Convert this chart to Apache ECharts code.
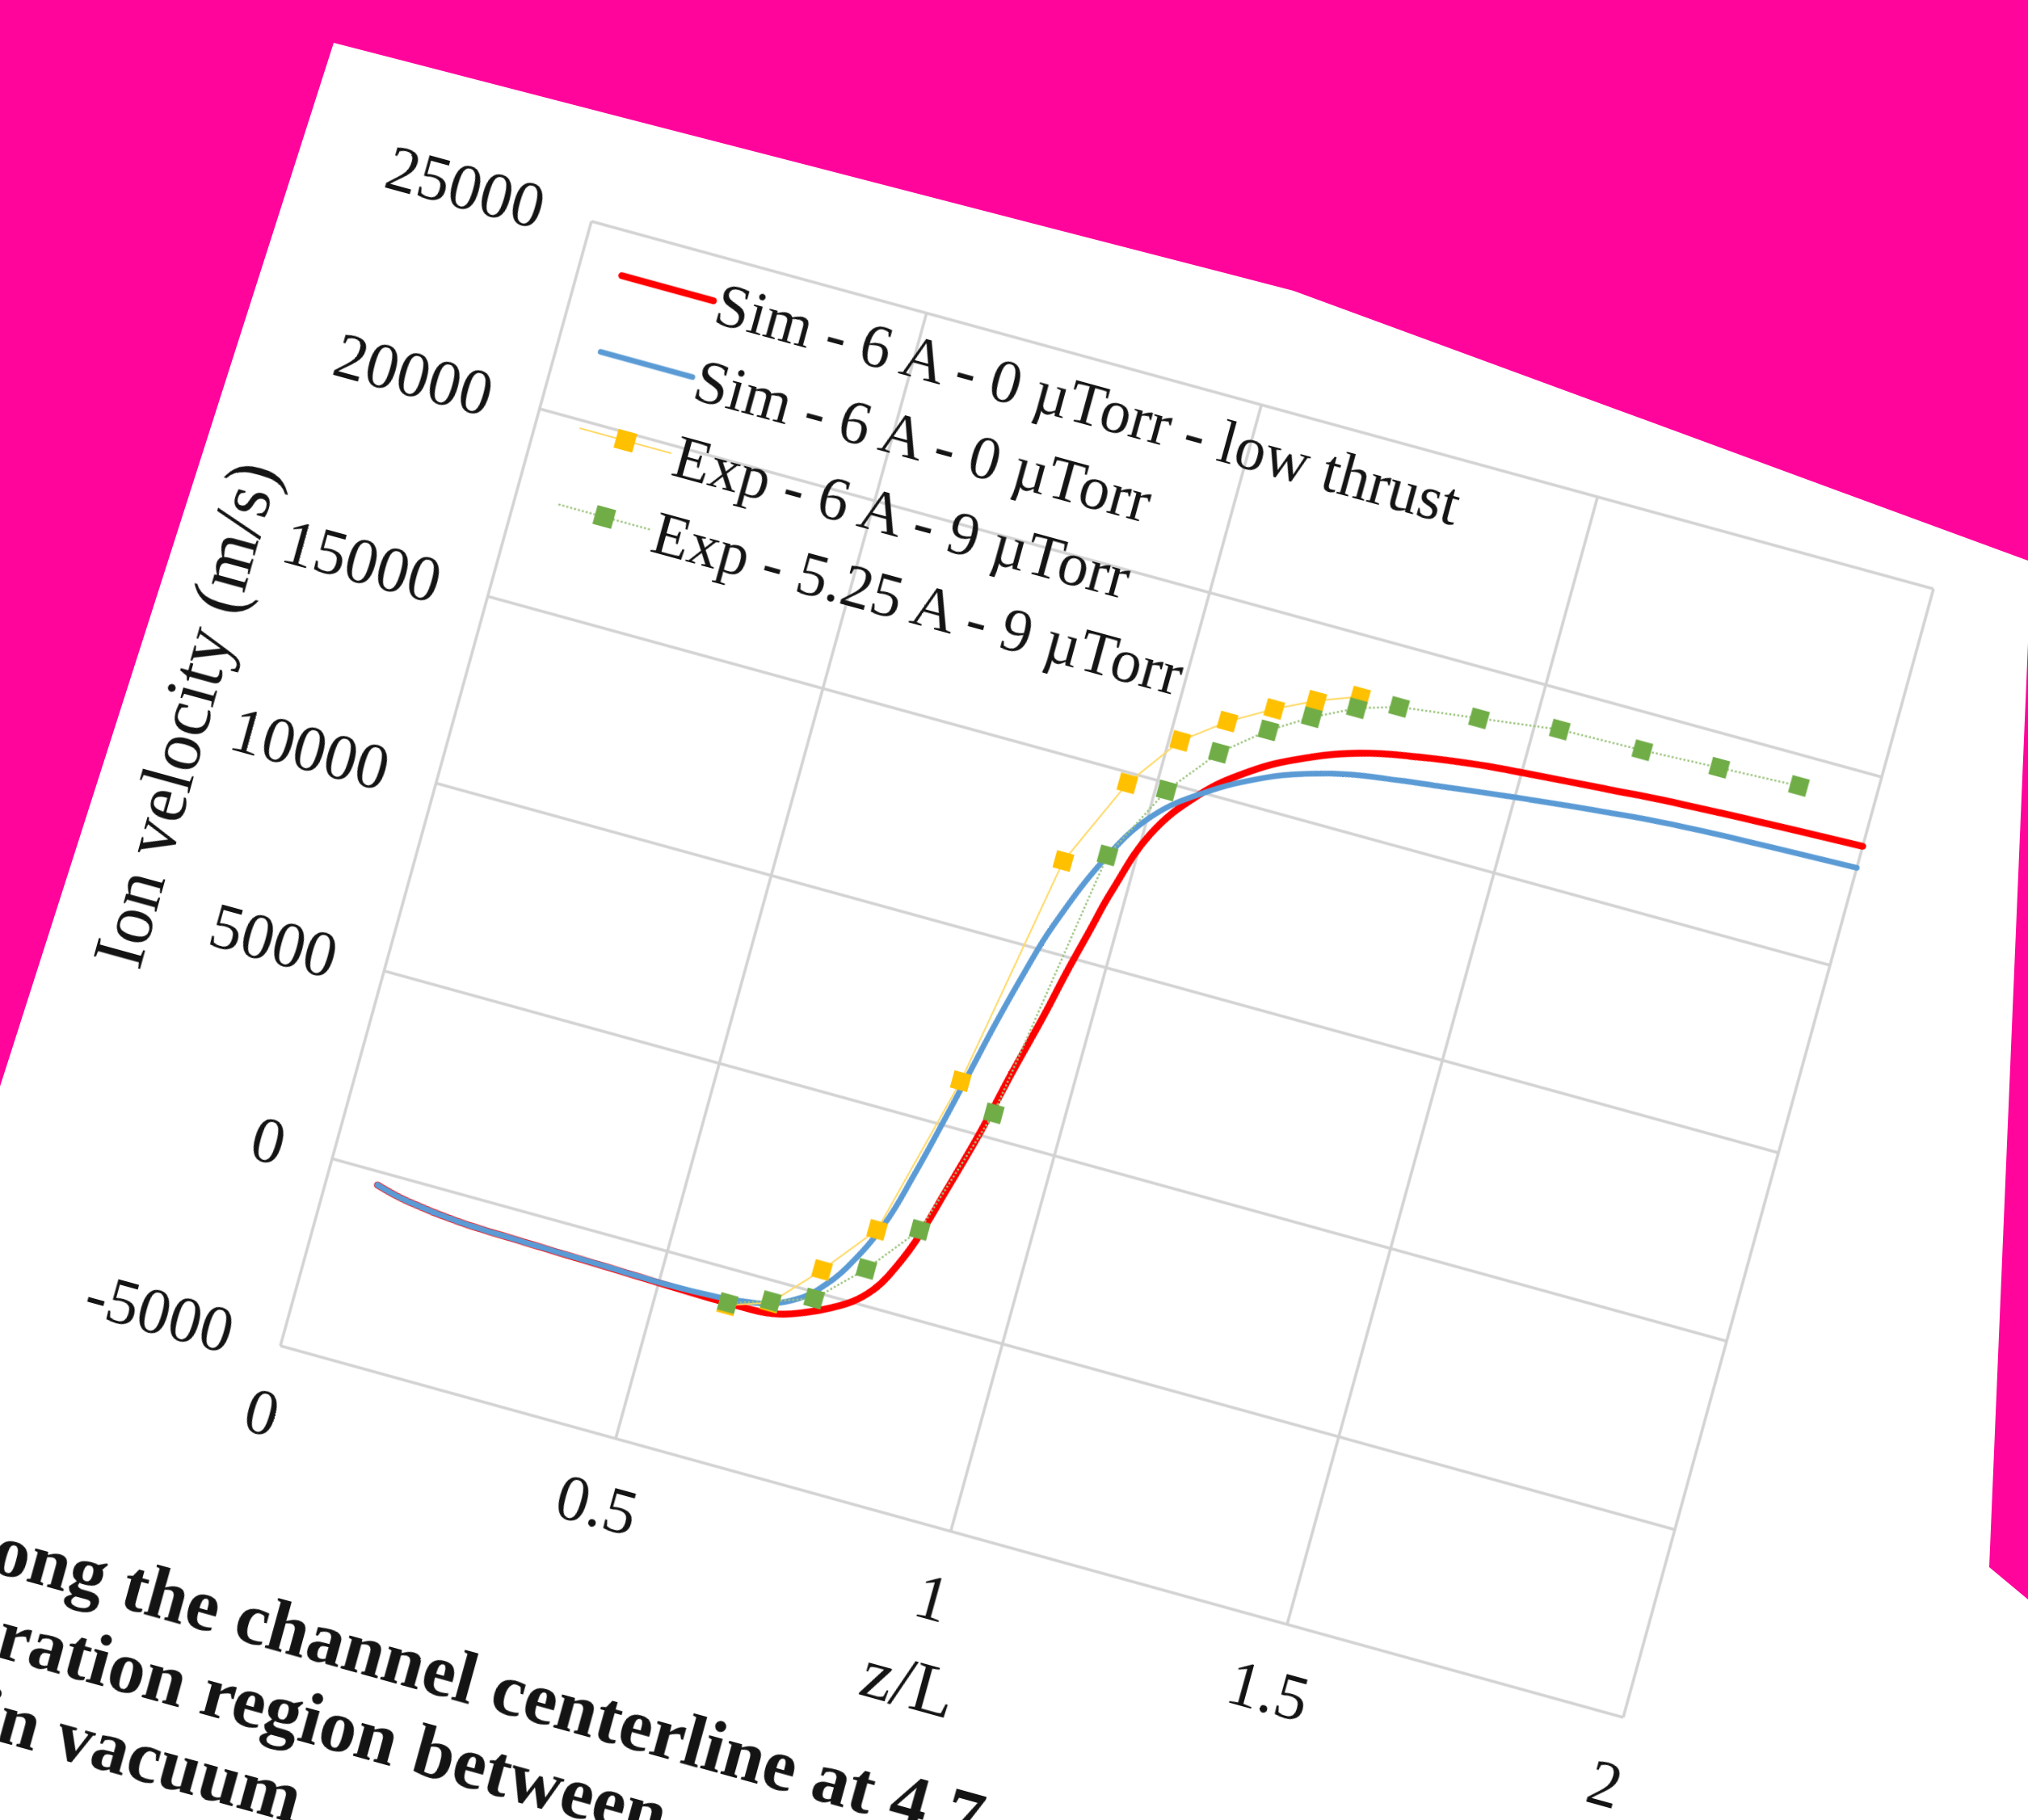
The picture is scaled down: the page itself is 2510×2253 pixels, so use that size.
<!DOCTYPE html>
<html>
<head>
<meta charset="utf-8">
<script src="https://cdn.jsdelivr.net/npm/echarts/dist/echarts.min.js"></script>
<style>
  html, body { margin: 0; padding: 0; width: 2510px; height: 2253px; overflow: hidden; background: #ffffff; }
  #page { position: absolute; left: 0; top: 0; width: 2510px; height: 2253px; overflow: hidden; background: #ffffff; }
  #sheet { position: absolute; left: 0; top: 0; width: 2600px; height: 2500px; transform-origin: 0 0; }
  #chart { position: absolute; left: 0; top: 0; width: 2600px; height: 2000px; }
  .cap { position: absolute; white-space: pre; font-family: "Liberation Serif", "Times New Roman", serif;
         font-weight: bold; color: #141414; }
  .cap .pre { position: absolute; right: 100%; top: 0; white-space: pre; }
  #edges { position: absolute; left: 0; top: 0; pointer-events: none; }
</style>
</head>
<body>
<div id="page">
  <div id="sheet">
    <div id="chart"></div>
  </div>
  <svg id="edges" width="2510" height="2253" viewBox="0 0 2510 2253">
    <polygon points="0,0 2510,0 2510,694 1601,360 413,53 0,1345" fill="#ff059c"/>
    <polygon points="2510,796 2462,1940 2510,1980" fill="#ff059c"/>
  </svg>
</div>
<script>
// ---- data ----
const zTicks = [0, 0.5, 1, 1.5, 2];
const vTicks = [-5000, 0, 5000, 10000, 15000, 20000, 25000];

const seriesNames = [
  'Sim - 6 A - 0 \u00b5Torr - low thrust',
  'Sim - 6 A - 0 \u00b5Torr',
  'Exp - 6 A - 9 \u00b5Torr',
  'Exp - 5.25 A - 9 \u00b5Torr'
];

// simulated centerline velocity, low-thrust case: [z/L, m/s]
const simLowThrust = [
  [0.073, -355], [0.12, -550], [0.2, -710], [0.3, -765], [0.42, -815], [0.51, -855],
  [0.59, -880], [0.64, -880], [0.68, -800], [0.718, -560], [0.745, -330], [0.777, 20],
  [0.8, 430], [0.816, 880], [0.84, 1900], [0.864, 3420], [0.888, 5030], [0.909, 6700],
  [0.932, 8390], [0.947, 9620], [0.963, 10800], [0.978, 11900], [1.01, 13600], [1.062, 14900],
  [1.121, 15800], [1.184, 16450], [1.268, 17030], [1.355, 17350], [1.444, 17570], [1.51, 17670],
  [1.62, 17820], [1.722, 17950], [1.86, 18060], [2.0, 18150]
];

// simulated centerline velocity, nominal case
const simNominal = [
  [0.073, -355], [0.12, -550], [0.2, -710], [0.3, -765], [0.42, -810], [0.51, -840],
  [0.59, -800], [0.63, -720], [0.666, -590], [0.70, -290], [0.724, 70], [0.756, 830],
  [0.791, 2150], [0.813, 3550], [0.835, 5200], [0.85, 6400], [0.868, 7850], [0.889, 9350],
  [0.91, 10650], [0.957, 12700], [1.005, 14050], [1.069, 15000], [1.149, 15800], [1.21, 16200],
  [1.266, 16450], [1.33, 16620], [1.4, 16780], [1.454, 16900], [1.52, 17040], [1.62, 17230],
  [1.731, 17400], [1.86, 17500], [2.0, 17580]
];

// measured probe positions (z/L)
const expZ = [0.604, 0.663, 0.722, 0.783, 0.842, 0.900, 0.959, 1.016, 1.074, 1.134, 1.189, 1.248,
              1.306, 1.421, 1.537, 1.659, 1.772, 1.889];
// measured velocities, 6 A / 9 uTorr
const exp6A = [-940, -580, 580, 1950, 6200, 12350, 14710, 16120, 16920, 17550, 18040, 18440];
// measured velocities, 5.25 A / 9 uTorr
const exp525A = [-880, -540, -180, 910, 2240, 5630, 12790, 14800, 16090, 16980, 17600, 18130,
                 18450, 18710, 18980, 19030, 19120, 19210];

// ---- layout of the unwarped sheet ----
const FONT = '"Liberation Serif", "Times New Roman", serif';
const G = { left: 620, top: 220, width: 1722, height: 1444 };
// where the plot corners land on the photographed page (TL, TR, BR, BL)
const plotQuad = [[732, 274], [2393, 729], [2009, 2126], [347, 1666]];

function solveLinear(A, b) {
  const n = b.length;
  const M = A.map((row, i) => row.concat([b[i]]));
  for (let c = 0; c < n; c++) {
    let p = c;
    for (let r = c + 1; r < n; r++) if (Math.abs(M[r][c]) > Math.abs(M[p][c])) p = r;
    const t = M[c]; M[c] = M[p]; M[p] = t;
    for (let r = 0; r < n; r++) {
      if (r === c) continue;
      const f = M[r][c] / M[c][c];
      for (let k = c; k <= n; k++) M[r][k] -= f * M[c][k];
    }
  }
  return M.map((row, i) => row[n] / row[i]);
}

function homography(src, dst) {
  const A = [], b = [];
  for (let i = 0; i < 4; i++) {
    const [x, y] = src[i], [X, Y] = dst[i];
    A.push([x, y, 1, 0, 0, 0, -X * x, -X * y]); b.push(X);
    A.push([0, 0, 0, x, y, 1, -Y * x, -Y * y]); b.push(Y);
  }
  const h = solveLinear(A, b);
  h.push(1);
  return h;
}

const srcQuad = [
  [G.left, G.top], [G.left + G.width, G.top],
  [G.left + G.width, G.top + G.height], [G.left, G.top + G.height]
];
const h = homography(srcQuad, plotQuad);
document.getElementById('sheet').style.transform =
  'matrix3d(' + [h[0], h[3], 0, h[6], h[1], h[4], 0, h[7], 0, 0, 1, 0, h[2], h[5], 0, h[8]].join(',') + ')';

// ---- caption lines below the figure ----
const CAP_SIZE = 92;
const captionLines = [
  { pre: 'along ', text: 'the channel centerline at 4.7', x: -108, base: 1808 },
  { pre: 'acceleration ', text: 'region between', x: 22, base: 1908 },
  { pre: 'in ', text: 'vacuum', x: -138, base: 2008 }
];
const sheet = document.getElementById('sheet');
captionLines.forEach(l => {
  const d = document.createElement('div');
  d.className = 'cap';
  d.style.fontSize = CAP_SIZE + 'px';
  d.style.lineHeight = CAP_SIZE + 'px';
  d.style.left = (G.left + l.x) + 'px';
  d.style.top = (G.top + l.base - 0.8375 * CAP_SIZE) + 'px';
  const s = document.createElement('span');
  s.className = 'pre';
  s.textContent = l.pre;
  d.appendChild(s);
  d.appendChild(document.createTextNode(l.text));
  sheet.appendChild(d);
});

// ---- chart ----
const chart = echarts.init(document.getElementById('chart'), null, { renderer: 'svg' });
const gridLine = { show: true, lineStyle: { color: '#d2d2d2', width: 3.5 } };
const textColor = '#141414';
const RED_W = 8.5, BLUE_W = 7;

chart.setOption({
  animation: false,
  backgroundColor: 'transparent',
  grid: { left: G.left, top: G.top, width: G.width, height: G.height, containLabel: false, outerBoundsMode: 'none' },
  xAxis: {
    type: 'value', min: zTicks[0], max: zTicks[zTicks.length - 1], interval: zTicks[1] - zTicks[0],
    axisLine: { show: false }, axisTick: { show: false }, splitLine: gridLine,
    axisLabel: { fontFamily: FONT, fontSize: 80, color: textColor, margin: 45, formatter: v => String(v) },
    name: 'z/L', nameLocation: 'middle', nameGap: 150,
    nameTextStyle: { fontFamily: FONT, fontSize: 88, color: textColor }
  },
  yAxis: {
    type: 'value', min: vTicks[0], max: vTicks[vTicks.length - 1], interval: vTicks[1] - vTicks[0],
    axisLine: { show: false }, axisTick: { show: false }, splitLine: gridLine,
    axisLabel: { fontFamily: FONT, fontSize: 80, color: textColor, margin: 62, formatter: v => String(v) },
    name: 'Ion velocity (m/s)', nameLocation: 'middle', nameGap: 278, nameRotate: 90,
    nameTextStyle: { fontFamily: FONT, fontSize: 90, color: textColor }
  },
  legend: {
    orient: 'vertical', left: G.left + 50, top: G.top + 17, padding: 0,
    itemWidth: 118, itemHeight: 30, itemGap: 22, selectedMode: false,
    textStyle: { fontFamily: FONT, fontSize: 76, lineHeight: 76, color: textColor },
    data: [
      { name: seriesNames[0], itemStyle: { opacity: 0 }, lineStyle: { color: '#ff0000', width: RED_W } },
      { name: seriesNames[1], itemStyle: { opacity: 0 }, lineStyle: { color: '#5b9bd5', width: BLUE_W } },
      { name: seriesNames[2], lineStyle: { color: '#ffd966', width: 2 } },
      { name: seriesNames[3], lineStyle: { color: '#9cc47e', width: 2.5, type: 'dotted' } }
    ]
  },
  series: [
    {
      name: seriesNames[0], type: 'line', data: simLowThrust, showSymbol: false, symbol: 'none',
      smooth: 0.4,
      lineStyle: { color: '#ff0000', width: RED_W, cap: 'round', join: 'round' }, itemStyle: { color: '#ff0000' }
    },
    {
      name: seriesNames[1], type: 'line', data: simNominal, showSymbol: false, symbol: 'none',
      smooth: 0.4,
      lineStyle: { color: '#5b9bd5', width: BLUE_W, cap: 'round', join: 'round' }, itemStyle: { color: '#5b9bd5' }
    },
    {
      name: seriesNames[2], type: 'line', data: exp6A.map((v, i) => [expZ[i], v]),
      symbol: 'rect', symbolSize: 22,
      lineStyle: { color: '#ffd966', width: 2 }, itemStyle: { color: '#ffc000' }
    },
    {
      name: seriesNames[3], type: 'line', data: exp525A.map((v, i) => [expZ[i], v]),
      symbol: 'rect', symbolSize: 22,
      lineStyle: { color: '#9cc47e', width: 2.5, type: 'dotted' }, itemStyle: { color: '#70ad47' }
    }
  ]
});
</script>
</body>
</html>
